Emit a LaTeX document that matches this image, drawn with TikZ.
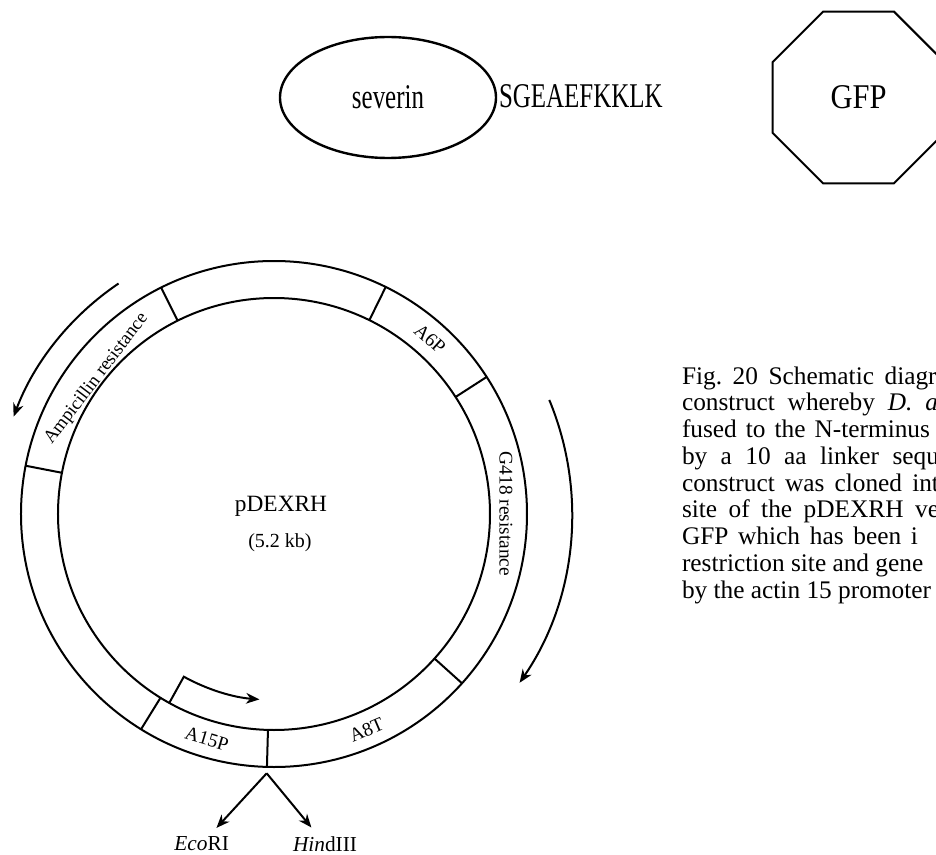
\documentclass[tikz,border=0pt]{standalone}
\usepackage{fontspec}
\setmainfont{Liberation Serif}
\usetikzlibrary{shapes.geometric}
\usetikzlibrary{arrows.meta}

\begin{document}
\begin{tikzpicture}[x=0.75pt, y=0.75pt, line width=1.5pt, >={Stealth[length=10pt,width=8pt]},
		band/.style={font=\fontsize{14.5}{14.5}\selectfont, inner sep=0pt, text height=9.5pt, text depth=0pt},
		site/.style={font=\fontsize{16}{16}\selectfont, inner sep=6pt},
		capline/.style={anchor=base west, inner sep=0pt, font=\fontsize{19}{19}\selectfont}]
			\clip (-274,-340) rectangle (662,514);
			% fusion protein
			\node[draw, ellipse, line width=1.8pt, minimum width=162pt, minimum height=90.75pt, inner sep=0pt, font=\fontsize{26}{26}\selectfont] (sev) at (114,416.5){\scalebox{0.72}[1]{severin}};
			\node[anchor=base west, inner sep=0pt, font=\fontsize{26}{26}\selectfont] (linker) at (224,406){\scalebox{0.72}[1]{SGEAEFKKLK}};
			\node[draw, regular polygon, regular polygon sides=8, minimum size=139.3pt, inner sep=0pt, font=\fontsize{26}{26}\selectfont] (gfp) at (584.5,416.5){\scalebox{0.88}[1]{GFP}};
			% plasmid
			\draw (0,0) circle (253);
			\draw (0,0) circle (216);
			\draw (116.5:216) -- (116.5:253);
			\draw (63.8:216) -- (63.8:253);
			\draw (32.8:216) -- (32.8:253);
			\draw (-42:216) -- (-42:253);
			\draw (-91.6:216) -- (-91.6:253);
			\draw (238.3:216) -- (238.3:253);
			\draw (169:216) -- (169:253);
			\node[band, rotate=52.75, font=\fontsize{14}{14}\selectfont] (amp) at (142.75:225){Ampicillin resistance};
			\node[band, rotate=-41.7] (asix) at (48.3:234.5){A6P};
			\node[band, rotate=-90] (gres) at (0:232){G418 resistance};
			\node[band, rotate=23.2] (aeight) at (-66.8:235){A8T};
			\node[band, rotate=-16.6] (afifteen) at (-106.6:235){A15P};
			\node[anchor=base, inner sep=0pt, font=\fontsize{17.5}{17.5}\selectfont] (name) at (7,3){pDEXRH};
			\node[anchor=base, inner sep=0pt, font=\fontsize{15}{15}\selectfont] (size) at (6,-33){(5.2 kb)};
			% directions
			\draw[->] (124:278) arc (124:159.5:278);
			\draw[->] (22.5:298) arc (22.5:-34.5:298);
			\draw[->] (241:216) -- (241:186) arc (241:265.5:186);
			% cloning site
			\coordinate (cut) at (-7.3,-259.3);
			\node[site] (eco) at (-72.3,-330){\textit{Eco}RI};
			\node[site] (hind) at (51,-330){\textit{Hin}dIII};
			\draw[->] (cut) -- (eco);
			\draw[->] (cut) -- (hind);
			% caption
			\node[capline] (cap1) at (407,130){\makebox[191pt][s]{Fig.\ 20 Schematic diagr}};
			\node[capline] (cap2) at (407,103.25){\makebox[192pt][s]{construct whereby \textit{D.\ a}}};
			\node[capline] (cap3) at (407,76.5){\makebox[186pt][s]{fused to the N-terminus}};
			\node[capline] (cap4) at (407,49.75){\makebox[192.75pt][s]{by a 10 aa linker sequ}};
			\node[capline] (cap5) at (407,23){\makebox[192.75pt][s]{construct was cloned int}};
			\node[capline] (cap6) at (407,-3.75){\makebox[192.75pt][s]{site of the pDEXRH ve}};
			\node[capline] (cap7) at (407,-30.5){\makebox[177pt][s]{GFP which has been i}};
			\node[capline] (cap8) at (407,-57.25){restriction site and gene};
			\node[capline] (cap9) at (407,-84){by the actin 15 promoter};
		\end{tikzpicture}
\end{document}
